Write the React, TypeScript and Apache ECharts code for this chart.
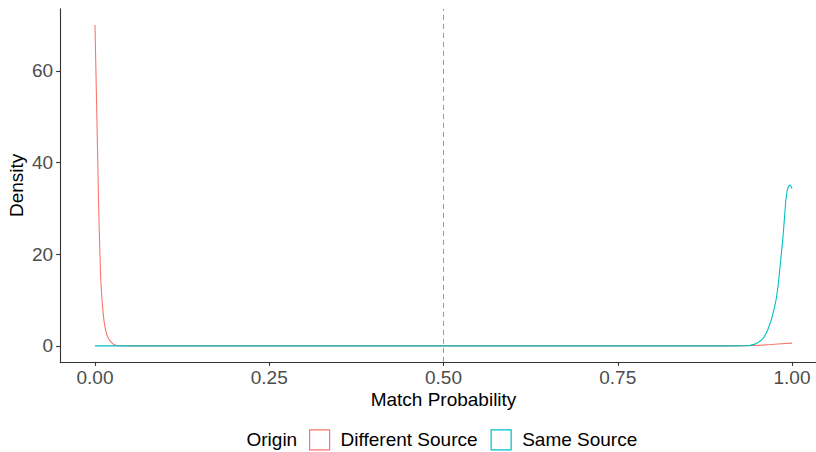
import React, { useEffect, useRef } from "react";
import * as echarts from "echarts";

// Density curves of the match probability, by origin
const diffX = [0, 0.001, 0.002, 0.003, 0.004, 0.0047, 0.0057, 0.0067, 0.0082, 0.0098, 0.0115, 0.013, 0.0148, 0.017, 0.0197, 0.023, 0.026, 0.03, 0.033, 0.04, 0.05, 0.1, 0.2, 0.3, 0.4, 0.5, 0.6, 0.7, 0.8, 0.9, 0.93, 0.95, 0.97, 0.99, 1.0];
const diffY = [70, 62.5, 55, 47.5, 40, 34.3, 27.5, 22, 14.6, 10.5, 7.4, 5.4, 3.7, 2.4, 1.5, 0.8, 0.4, 0.15, 0.05, 0.01, 0, 0, 0, 0, 0, 0, 0, 0, 0, 0, 0.03, 0.1, 0.28, 0.5, 0.6];

const sameX = [0, 0.1, 0.2, 0.3, 0.4, 0.5, 0.6, 0.7, 0.8, 0.9, 0.92, 0.934, 0.94, 0.948, 0.955, 0.96, 0.965, 0.97, 0.974, 0.977, 0.98, 0.9818, 0.984, 0.9866, 0.989, 0.991, 0.993, 0.995, 0.997, 0.999, 1.0];
const sameY = [0, 0, 0, 0, 0, 0, 0, 0, 0, 0, 0, 0.02, 0.1, 0.43, 1.1, 1.9, 3.4, 5.5, 7.8, 9.9, 13, 15.6, 19, 22.9, 27.5, 31.6, 33.8, 34.8, 35.1, 34.7, 34.3];

const xTicks = [0, 0.25, 0.5, 0.75, 1];
const yTicks = [0, 20, 40, 60];
const threshold = 0.5;

const seriesNames = ["Different Source", "Same Source"];
const seriesColors = ["#F8766D", "#00BFC4"];

const FONT = "'Liberation Sans', Arial, Helvetica, sans-serif";

function pairs(xs: number[], ys: number[]) {
  return xs.map((x, i) => [x, ys[i]]);
}

export default function App() {
  const ref = useRef<HTMLDivElement>(null);

  useEffect(() => {
    if (!ref.current) return;
    const chart = echarts.init(ref.current, null, { renderer: "svg" });
    const axisLineStyle = { color: "#333333", width: 1.1 };
    chart.setOption({
      animation: false,
      backgroundColor: "#ffffff",
      textStyle: { fontFamily: FONT },
      grid: {
        left: 60.15,
        top: 8.9,
        width: 766.7,
        height: 353,
        containLabel: false,
        outerBoundsMode: "none",
      },
      xAxis: {
        type: "value",
        min: -0.05,
        max: 1.05,
        name: "Match Probability",
        nameLocation: "middle",
        nameGap: 28,
        nameMoveOverlap: false,
        nameTextStyle: { fontSize: 19, color: "#000000", fontFamily: FONT },
        axisLine: { show: true, onZero: false, lineStyle: axisLineStyle },
        axisTick: { show: true, length: 4, lineStyle: axisLineStyle, customValues: xTicks },
        axisLabel: {
          customValues: xTicks,
          formatter: (v: number) => v.toFixed(2),
          fontSize: 19,
          color: "#4D4D4D",
          margin: 6,
          fontFamily: FONT,
        },
        splitLine: { show: false },
      },
      yAxis: {
        type: "value",
        min: -3.5,
        max: 73.5,
        name: "Density",
        nameLocation: "middle",
        nameGap: 34,
        nameMoveOverlap: false,
        nameRotate: 90,
        nameTextStyle: { fontSize: 19, color: "#000000", fontFamily: FONT },
        axisLine: { show: true, onZero: false, lineStyle: axisLineStyle },
        axisTick: { show: true, length: 4, lineStyle: axisLineStyle, customValues: yTicks },
        axisLabel: {
          customValues: yTicks,
          fontSize: 19,
          color: "#4D4D4D",
          margin: 7,
          fontFamily: FONT,
        },
        splitLine: { show: false },
      },
      legend: {
        left: 309,
        top: 429.3,
        padding: 0,
        itemWidth: 20,
        itemHeight: 20,
        itemGap: 13,
        data: seriesNames.map((name, i) => ({
          name,
          icon: "rect",
          itemStyle: { color: "rgba(0,0,0,0)", borderColor: seriesColors[i], borderWidth: 1.2 },
        })),
        textStyle: { fontSize: 19, color: "#000000", fontFamily: FONT, padding: [0, 0, 0, 6] },
        selectedMode: false,
      },
      graphic: [
        {
          type: "text",
          left: 246.5,
          top: 430,
          style: { text: "Origin", fontSize: 19, fill: "#000000", fontFamily: FONT },
        },
      ],
      series: [
        {
          name: seriesNames[0],
          type: "line",
          data: pairs(diffX, diffY),
          showSymbol: false,
          symbol: "none",
          lineStyle: { color: seriesColors[0], width: 1.1 },
          itemStyle: { color: seriesColors[0] },
          z: 2,
          markLine: {
            silent: true,
            symbol: "none",
            label: { show: false },
            lineStyle: { color: "#9a9a9a", type: [5, 4], width: 1 },
            data: [{ xAxis: threshold }],
          },
        },
        {
          name: seriesNames[1],
          type: "line",
          data: pairs(sameX, sameY),
          showSymbol: false,
          symbol: "none",
          lineStyle: { color: seriesColors[1], width: 1.1 },
          itemStyle: { color: seriesColors[1] },
          z: 3,
        },
      ],
    });
    return () => chart.dispose();
  }, []);

  return (
    <div
      ref={ref}
      style={{ position: "fixed", left: 0, top: 0, width: 816, height: 452 }}
    />
  );
}
